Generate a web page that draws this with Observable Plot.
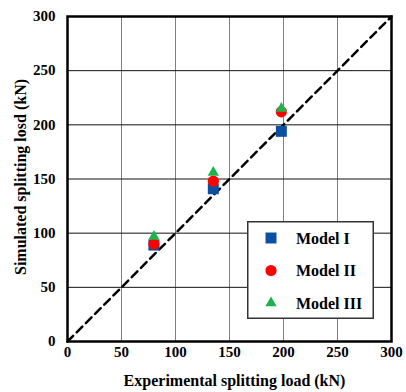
<!DOCTYPE html>
<html>
<head>
<meta charset="utf-8">
<script src="https://cdn.jsdelivr.net/npm/d3@7"></script>
<script src="https://cdn.jsdelivr.net/npm/@observablehq/plot@0.6"></script>
<style>
  body { margin: 0; background: #fff; }
  #wrap { position: relative; width: 406px; height: 392px; }
  #legend { position: absolute; left: 247px; top: 221px; }
</style>
</head>
<body>
<div id="wrap"></div>
<script>
// ---- data ----
const ticks = [0, 50, 100, 150, 200, 250, 300];
const expLoad = [80, 135, 198];
const modelI = [89, 141, 194];
const modelII = [90, 148, 212];
const modelIII = [97, 156, 215];
const seriesNames = ["Model I", "Model II", "Model III"];
const seriesColors = ["#0b4fa3", "#ff0000", "#1db34c"];
const seriesSymbols = ["square", "circle", "triangle"];
const seriesR = [6.2, 5.6, 4.2];
const xTitle = "Experimental splitting load (kN)";
const yTitle = "Simulated splitting losd (kN)";

const seriesValues = [modelI, modelII, modelIII];
const points = [];
seriesNames.forEach((name, s) => {
  expLoad.forEach((x, i) => points.push({ series: name, s, x, y: seriesValues[s][i] }));
});
const inner = ticks.filter(t => t > 0 && t < 300);
const diag = [ticks[0], ticks[ticks.length - 1]];

const chart = Plot.plot({
  width: 406,
  height: 392,
  marginLeft: 67,
  marginRight: 15,
  marginTop: 16,
  marginBottom: 51,
  x: { domain: [0, 300] },
  y: { domain: [0, 300] },
  style: { fontFamily: "Liberation Serif", fontWeight: "bold", fontSize: "15px", color: "#000", background: "#fff" },
  marks: [
    Plot.ruleX(inner, { stroke: "#808080", strokeWidth: 1 }),
    Plot.ruleY(inner, { stroke: "#111", strokeWidth: 1 }),
    Plot.line(diag, { x: d => d, y: d => d, stroke: "#000", strokeWidth: 2.5, strokeDasharray: "8,5" }),
    Plot.axisX(ticks, { tickSize: 0, tickPadding: 5, fontSize: 15, label: null }),
    Plot.axisY(ticks, { tickSize: 0, tickPadding: 12, fontSize: 15, label: null }),
    ...seriesNames.map((name, s) =>
      Plot.dot(points.filter(d => d.s === s), {
        x: "x", y: "y", symbol: () => seriesSymbols[s], r: seriesR[s],
        fill: seriesColors[s], stroke: "none"
      })
    ),
    Plot.frame({ stroke: "#000", strokeWidth: 2.5 }),
    Plot.text([xTitle], { text: d => d, frameAnchor: "bottom", textAnchor: "middle", dx: 5, dy: 44, fontSize: 16, fontWeight: "bold" }),
    Plot.text([yTitle], { text: d => d, frameAnchor: "left", textAnchor: "middle", dx: -47, dy: -2, rotate: -90, fontSize: 16, fontWeight: "bold" })
  ]
});
const wrap = document.getElementById("wrap");
wrap.appendChild(chart);

// ---- legend overlay ----
const lw = 127, lh = 98;
const leg = d3.select(wrap).append("svg").attr("id", "legend")
  .attr("width", lw).attr("height", lh);
leg.append("rect").attr("x", 0.75).attr("y", 0.75).attr("width", lw - 1.5).attr("height", lh - 1.5)
  .attr("fill", "#fff").attr("stroke", "#333").attr("stroke-width", 1.5);
const symMap = { square: d3.symbolSquare, circle: d3.symbolCircle, triangle: d3.symbolTriangle };
seriesNames.forEach((name, s) => {
  const cy = 17 + s * 32.5;
  leg.append("path")
    .attr("transform", `translate(24,${cy})`)
    .attr("d", d3.symbol(symMap[seriesSymbols[s]], Math.PI * seriesR[s] * seriesR[s])())
    .attr("fill", seriesColors[s]);
  leg.append("text").attr("x", 49).attr("y", cy).attr("dy", "0.35em")
    .attr("font-family", "Liberation Serif").attr("font-weight", "bold").attr("font-size", 16)
    .text(name);
});
</script>
</body>
</html>
